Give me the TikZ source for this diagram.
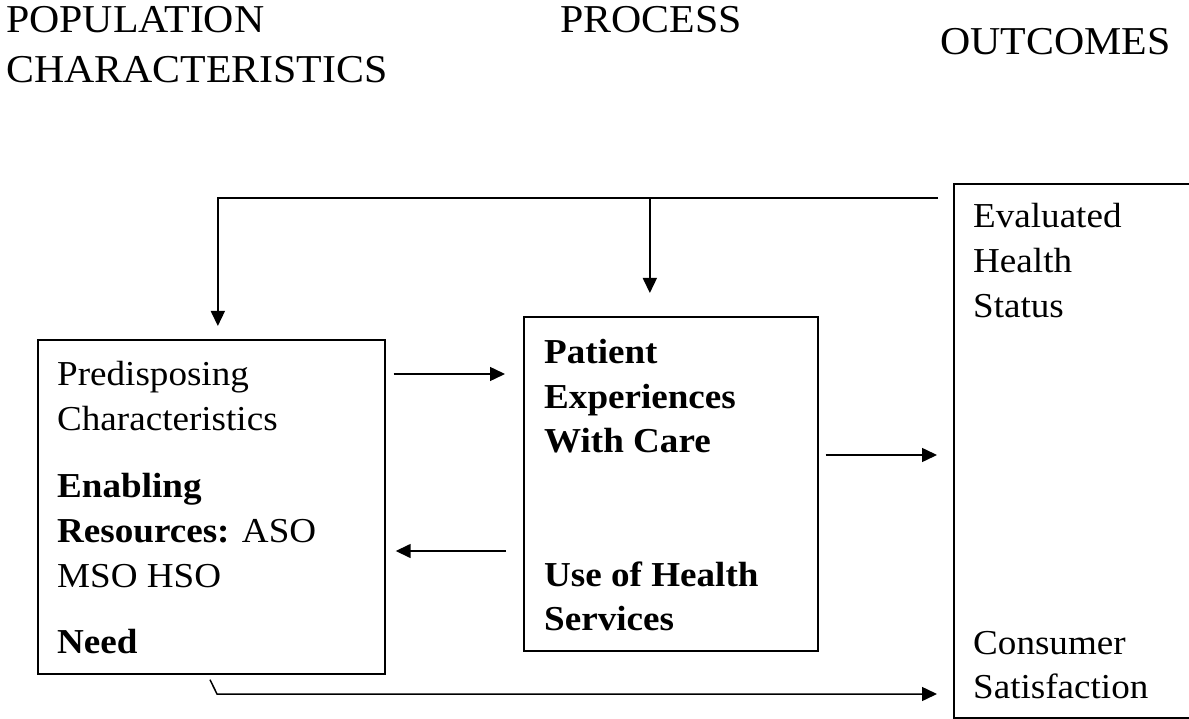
\documentclass[tikz,border=0pt]{standalone}
\usepackage{fontspec}
\setmainfont{Liberation Serif}[FakeStretch=1.06]
\usetikzlibrary{arrows.meta,calc}
\tikzset{
  box/.style={draw, line width=1.7pt, rectangle, inner sep=0pt, anchor=north west},
  txt/.style={anchor=base west, inner sep=0pt, font=\fontsize{35}{45}\selectfont},
  hdr/.style={anchor=base west, inner sep=0pt, font=\fontsize{39.5}{50}\selectfont},
  arr/.style={line width=1.5pt, -{Triangle[length=15pt,width=14pt]}},
  ln/.style={line width=1.5pt}
}
\begin{document}
\begin{tikzpicture}[x=1pt,y=-1pt]
\useasboundingbox (0,0) rectangle (1189,719);
% headers
\node[hdr] (h1) at (6,33) {POPULATION};
\node[hdr] (h2) at (6,83) {CHARACTERISTICS};
\node[hdr] (h3) at (560,33) {PROCESS};
\node[hdr] (h4) at (940,55) {OUTCOMES};
% boxes
\node[box, minimum width=347pt, minimum height=334pt] (pc) at (37,339) {};
\node[box, minimum width=294pt, minimum height=334pt] (pe) at (523,316) {};
\node[box, minimum width=270pt, minimum height=534pt] (out) at (953,183) {};
% left box text
\node[txt] (t1) at (57,385) {Predisposing};
\node[txt] (t2) at (57,430) {Characteristics};
\node[txt] (t3) at (57,497) {\textbf{Enabling}};
\node[txt] (t4) at (57,542) {\textbf{Resources:} ASO};
\node[txt] (t5) at (57,587) {MSO HSO};
\node[txt] (t6) at (57,653) {\textbf{Need}};
% middle box text
\node[txt] (m1) at (544,363) {\textbf{Patient}};
\node[txt] (m2) at (544,408) {\textbf{Experiences}};
\node[txt] (m3) at (544,452) {\textbf{With Care}};
\node[txt] (m4) at (544,586) {\textbf{Use of Health}};
\node[txt] (m5) at (544,630) {\textbf{Services}};
% right box text
\node[txt] (r1) at (973,228) {Evaluated};
\node[txt] (r2) at (973,273) {Health};
\node[txt] (r3) at (973,318) {Status};
\node[txt] (r4) at (973,654) {Consumer};
\node[txt] (r5) at (973,698) {Satisfaction};
% connectors
\coordinate (fbR) at ($(out.north west)+(-15,15)$);
\draw[arr, shorten >=13pt] (fbR) -| ([xshift=6.5pt]pc.north);
\draw[arr, shorten >=23pt] ([xshift=-21pt]pe.north |- fbR) -- ([xshift=-21pt]pe.north);
\draw[arr] ($(pc.north east)+(8,35)$) -- ($(pe.north west)+(-18,58)$);
\draw[arr] ($(pe.north west)+(-17,235)$) -- ($(pc.north east)+(10,212)$);
\draw[arr] ($(pe.north east)+(7,139)$) -- ($(out.north west)+(-16,272)$);
\coordinate (bk) at (217,694);
\draw[arr] ($(pc.south west)+(173,5)$) -- (bk) -- ($(out.north west)+(-16,511)$);
\end{tikzpicture}
\end{document}
